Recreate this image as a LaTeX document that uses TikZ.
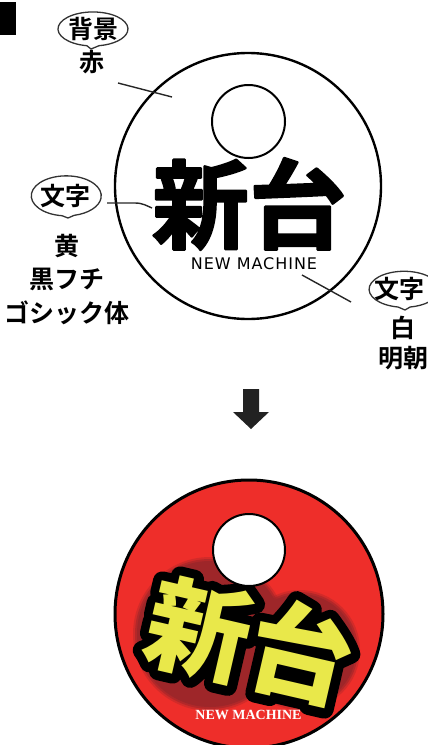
\documentclass[tikz,border=0pt]{standalone}
\usepackage{fontspec}
\newfontfamily\jp{Noto Sans CJK JP Bold}
\newfontfamily\jptop[FakeBold=2.5]{Noto Sans CJK JP Bold}
\newfontfamily\jpblack{Noto Sans CJK JP Black}
\newfontfamily\jpoutline[FakeBold=18]{Noto Sans CJK JP Black}
\newfontfamily\lat[LetterSpace=6]{DejaVu Sans}
\newfontfamily\tnr{Liberation Serif}
\definecolor{discred}{HTML}{EE2E2A}
\definecolor{shadowred}{HTML}{9E2629}
\definecolor{ylw}{HTML}{E9E84A}
\definecolor{arrowgray}{HTML}{222222}
\definecolor{bubblegray}{HTML}{333333}
\newcommand\roundjoin{\special{pdf:literal direct 1 j}}
\tikzset{
  lbl/.style={font=\jp\fontsize{25}{25}\selectfont, inner sep=0pt},
  bubble/.style={draw=bubblegray, line width=1.3pt, line join=round},
  leader/.style={draw=black!85, line width=1.4pt},
  bigtop/.style={font=\jptop\fontsize{97}{97}\selectfont, inner sep=0pt},
  bigbot/.style={font=\fontsize{104}{104}\selectfont, inner sep=0pt, rotate=-13},
  shadowblob/.style={fill=shadowred},
}
\begin{document}
\begin{tikzpicture}[x=1pt, y=-1pt]
\useasboundingbox (0,0) rectangle (428,745);
% corner badge
\fill[black] (0,2) rectangle (16,35);

% ===== top disc =====
\node[circle, draw, line width=2.4pt, minimum size=266pt, inner sep=0pt] (disc) at (248,186) {};
\node[circle, draw, line width=2pt, minimum size=73pt, inner sep=0pt] (hole) at (248.5,121.5) {};
\node[bigtop] (shindai) at (249,204) {\roundjoin 新台};
\node[font=\lat\fontsize{16}{16}\selectfont, inner sep=0pt] (nm) at (254,264) {NEW MACHINE};

% labels
\node[lbl] (haikei) at (93,29) {背景};
\draw[bubble] ([shift={(-6.1,16.7)}]haikei.center) arc[start angle=100, end angle=440, x radius=35, y radius=17] -- ([shift={(-2,20)}]haikei.center) -- cycle;
\node[lbl] (aka) at (92,62) {赤};

\node[lbl] (moji1) at (66,196) {文字};
\draw[bubble] ([shift={(-4,19.7)}]moji1.center) arc[start angle=97, end angle=437, x radius=35, y radius=20] -- ([shift={(2,22)}]moji1.center) -- cycle;
\node[lbl] (ki) at (67,246) {黄};
\node[lbl] (kurofuchi) at (67,279) {黒フチ};
\node[lbl] (gothic) at (67,313) {ゴシック体};

\node[lbl] (moji2) at (399,289) {文字};
\draw[bubble] ([shift={(-1,18)}]moji2.center) arc[start angle=100, end angle=440, x radius=35, y radius=18] -- ([shift={(6,21)}]moji2.center) -- cycle;
\node[lbl] (shiro) at (403,328) {白};
\node[lbl] (mincho) at (403,358) {明朝};

% leader lines
\coordinate (l1a) at (118,83);
\coordinate (l1b) at (172,97);
\draw[leader] (l1a) -- (l1b);
\coordinate (l2a) at (107,203);
\coordinate (l2b) at (152,208);
\draw[leader] (l2a) -- ++(28,0) .. controls (143,203) and (147,206) .. (l2b);
\coordinate (l3a) at (302,275);
\coordinate (l3b) at (351,302);
\draw[leader] (l3a) -- (l3b);

% arrow
\fill[arrowgray] (243,389) -- (259,389) -- (259,412) -- (269,412) -- (251,429) -- (233,412) -- (243,412) -- cycle;

% ===== bottom disc =====
\node[circle, draw, fill=discred, line width=3pt, minimum size=268pt, inner sep=0pt] (rdisc) at (249,614) {};
% soft dark-red blob behind the lettering
\foreach \d/\o in {4/0.35,2/0.6,0/1}{
  \fill[shadowblob, opacity=\o] (210,634) circle ({73+\d});
  \fill[shadowblob, opacity=\o] (300,650) circle ({56+\d});
}
\coordinate (tc) at (250,641);
\node[bigbot, text=black] (boutline) at (tc) {\jpoutline\roundjoin 新台};
\node[bigbot, text=ylw] (bshindai) at (tc) {\jpblack 新台};
\node[circle, draw, fill=white, line width=2pt, minimum size=72pt, inner sep=0pt] (rhole) at (249,550) {};
\node[font=\tnr\bfseries\fontsize{14}{14}\selectfont, text=white, inner sep=0pt] (bnm) at (248.5,715) {NEW MACHINE};
\end{tikzpicture}
\end{document}
